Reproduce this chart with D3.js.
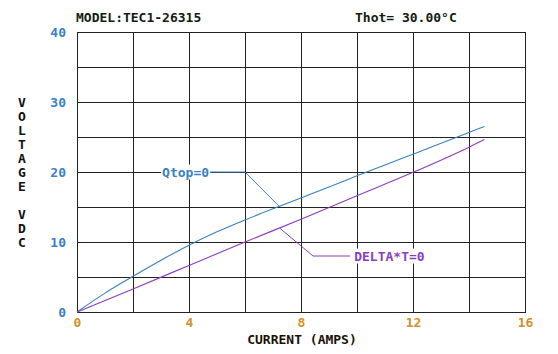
<!DOCTYPE html>
<html lang="en">
<head>
    <meta charset="UTF-8">
    <title>TEC1-26315 Voltage</title>
    <script src="https://d3js.org/d3.v7.min.js"></script>
    <style>
        body { margin: 0; background: #fff; }
        text { font-family: "DejaVu Sans Mono", monospace; font-weight: bold; font-size: 13px; }
    </style>
</head>
<body>
    <div id="chart"></div>
    <script>
        // values
        const qtopCurrent = [0, 1, 2, 3, 4, 5, 6, 7, 8, 9, 10, 11, 12, 13, 14, 14.55];
        const qtopZero = [0, 2.7, 5.1, 7.4, 9.55, 11.45, 13.15, 14.75, 16.3, 17.85, 19.45, 21.0, 22.55, 24.1, 25.65, 26.5];
        const deltaCurrent = [0, 2, 4, 6, 8, 10, 12, 14, 14.55];
        const deltaZero = [0, 3.3, 6.65, 10.0, 13.25, 16.6, 19.95, 23.55, 24.65];
        const xTicks = [0, 4, 8, 12, 16];
        const yTicks = [0, 10, 20, 30, 40];
        const yLabel = "VOLTAGE VDC";

        const w = 558;
        const h = 354;
        const plotLeft = 77, plotRight = 525, plotTop = 32, plotBottom = 312;

        const xScale = d3.scaleLinear().domain([0, 16]).range([plotLeft, plotRight]);
        const yScale = d3.scaleLinear().domain([0, 40]).range([plotBottom, plotTop]);

        const svg = d3.select('#chart')
            .append('svg')
            .attr("width", w)
            .attr("height", h);

        // grid
        svg.append('g')
            .selectAll('line')
            .data(d3.range(0, 17, 2))
            .enter()
            .append('line')
            .attr("x1", d => xScale(d) + 0.5)
            .attr("x2", d => xScale(d) + 0.5)
            .attr("y1", plotTop)
            .attr("y2", plotBottom)
            .attr("stroke", "#222");
        svg.append('g')
            .selectAll('line')
            .data(d3.range(0, 41, 5))
            .enter()
            .append('line')
            .attr("x1", plotLeft)
            .attr("x2", plotRight + 1)
            .attr("y1", d => yScale(d) + 0.5)
            .attr("y2", d => yScale(d) + 0.5)
            .attr("stroke", "#222");

        // tick labels
        const xAxis = d3.axisBottom(xScale).tickValues(xTicks).tickSize(0).tickPadding(6);
        const gx = svg.append('g')
            .attr("transform", "translate(0," + plotBottom + ")")
            .call(xAxis);
        gx.select('.domain').remove();
        gx.selectAll('text')
            .attr("fill", "#d38f2c")
            .style("font-family", "DejaVu Sans Mono")
            .style("font-size", "13px")
            .style("font-weight", "bold");

        const yAxis = d3.axisLeft(yScale).tickValues(yTicks).tickSize(0).tickPadding(11);
        const gy = svg.append('g')
            .attr("transform", "translate(" + plotLeft + ",0)")
            .call(yAxis);
        gy.select('.domain').remove();
        gy.selectAll('text')
            .attr("fill", "#3a7fc8")
            .style("font-family", "DejaVu Sans Mono")
            .style("font-size", "13px")
            .style("font-weight", "bold");

        // series
        function seriesLine(xs) {
            return d3.line()
                .x((d, i) => xScale(xs[i]))
                .y(d => yScale(d))
                .curve(d3.curveMonotoneX);
        }

        svg.append('path')
            .attr("d", seriesLine(qtopCurrent)(qtopZero))
            .attr("fill", "none")
            .attr("stroke", "#3a80bf")
            .attr("stroke-width", 1.1);
        svg.append('path')
            .attr("d", seriesLine(deltaCurrent)(deltaZero))
            .attr("fill", "none")
            .attr("stroke", "#8a3dbf")
            .attr("stroke-width", 1.1);

        // annotations (data units)
        const qtopLeader = [[4.7, 20], [6, 20], [7.22, 15.1]];
        const deltaLeader = [[7.25, 11.95], [8.43, 8], [9.75, 8]];
        const leader = d3.line().x(d => xScale(d[0])).y(d => yScale(d[1]));

        function label(text, x, y, color) {
            const g = svg.append('g');
            const bg = g.append('rect').attr("fill", "#fff");
            const t = g.append('text')
                .attr("x", x)
                .attr("y", y)
                .attr("dy", "0.35em")
                .attr("fill", color)
                .text(text);
            const b = t.node().getBBox();
            bg.attr("x", b.x - 1).attr("y", b.y).attr("width", b.width + 2).attr("height", b.height);
        }

        svg.append('path')
            .attr("d", leader(qtopLeader))
            .attr("fill", "none")
            .attr("stroke", "#3a80bf");
        label("Qtop=0", xScale(3.04), yScale(20), "#3a80bf");

        svg.append('path')
            .attr("d", leader(deltaLeader))
            .attr("fill", "none")
            .attr("stroke", "#8a3dbf");
        label("DELTA*T=0", xScale(9.9), yScale(8), "#8a3dbf");

        // titles
        svg.append('text')
            .attr("x", 76)
            .attr("y", 22)
            .attr("fill", "#102010")
            .text("MODEL:TEC1-26315");
        svg.append('text')
            .attr("x", 355)
            .attr("y", 22)
            .attr("fill", "#102010")
            .text("Thot= 30.00°C");
        svg.append('text')
            .attr("x", (plotLeft + plotRight) / 2 + 1)
            .attr("y", 344)
            .attr("text-anchor", "middle")
            .attr("fill", "#1a1208")
            .text("CURRENT (AMPS)");

        svg.append('g')
            .selectAll('text')
            .data(yLabel.split(""))
            .enter()
            .append('text')
            .attr("x", 22)
            .attr("y", (d, i) => 102 + i * 14)
            .attr("dy", "0.35em")
            .attr("text-anchor", "middle")
            .attr("fill", "#111")
            .text(d => d);
    </script>
</body>
</html>
